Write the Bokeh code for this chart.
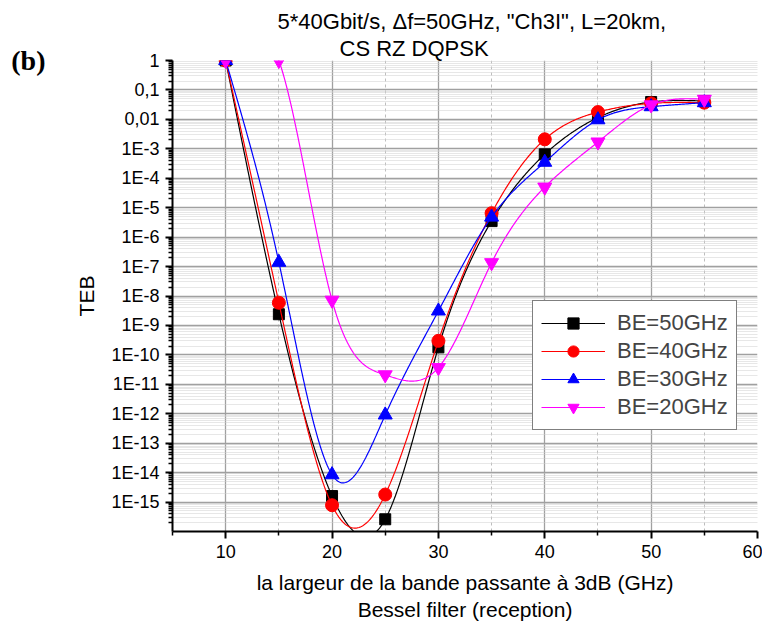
import numpy as np
from bokeh.plotting import figure
from bokeh.models import FixedTicker, Legend, LegendItem, LogAxis, Range1d, Title
from bokeh.embed import file_html
from bokeh.resources import INLINE

# ---- data ----
bandwidth = [10, 15, 20, 25, 30, 35, 40, 45, 50, 55]
teb_be50 = [1, 2.4e-9, 1.6e-15, 2.6e-16, 1.8e-10, 3.5e-6, 6.5e-4, 0.0115, 0.039, 0.042]
teb_be40 = [1, 5.9e-9, 7.8e-16, 1.8e-15, 3.0e-10, 6.5e-6, 2.1e-3, 0.0177, 0.035, 0.037]
teb_be30 = [1, 1.4e-7, 8.5e-15, 9.1e-13, 3.1e-9, 4.8e-6, 3.5e-4, 0.0097, 0.027, 0.037]
teb_be20 = [1, 1, 7.2e-9, 2.1e-11, 3.7e-11, 1.35e-7, 5.0e-5, 1.7e-3, 0.031, 0.048]

series_labels = ["BE=50GHz", "BE=40GHz", "BE=30GHz", "BE=20GHz"]
series_values = [teb_be50, teb_be40, teb_be30, teb_be20]
series_colors = ["#000000", "#ff0000", "#0000ff", "#ff00ff"]
series_markers = ["square", "circle", "triangle", "inverted_triangle"]
series_sizes = [11, 13, 14, 14]

x_ticks = [10, 20, 30, 40, 50, 60]
x_minor = [5, 15, 25, 35, 45, 55]
y_ticks = [10.0 ** e for e in range(-15, 1)]
y_labels = ["1E-%d" % (-e) for e in range(-15, -2)] + ["0,01", "0,1", "1"]
y_minor = [k * 10.0 ** e for e in range(-16, 0) for k in range(2, 10)]

title1 = '5*40Gbit/s, \u0394f=50GHz, "Ch3I", L=20km,'
title2 = "CS RZ DQPSK"
panel_tag = "(b)"
xlabel = "la largeur de la bande passante \u00e0 3dB (GHz)\nBessel filter (reception)"
ylabel = "TEB"


def natural_spline(x, y, xs):
    x = np.asarray(x, float)
    y = np.asarray(y, float)
    n = len(x)
    h = np.diff(x)
    A = np.zeros((n, n))
    b = np.zeros(n)
    A[0, 0] = 1
    A[-1, -1] = 1
    for i in range(1, n - 1):
        A[i, i - 1] = h[i - 1]
        A[i, i] = 2 * (h[i - 1] + h[i])
        A[i, i + 1] = h[i]
        b[i] = 6 * ((y[i + 1] - y[i]) / h[i] - (y[i] - y[i - 1]) / h[i - 1])
    M = np.linalg.solve(A, b)
    idx = np.clip(np.searchsorted(x, xs) - 1, 0, n - 2)
    x0, x1 = x[idx], x[idx + 1]
    hh = x1 - x0
    t0 = x1 - xs
    t1 = xs - x0
    return (M[idx] * t0 ** 3 / (6 * hh) + M[idx + 1] * t1 ** 3 / (6 * hh)
            + (y[idx] / hh - M[idx] * hh / 6) * t0
            + (y[idx + 1] / hh - M[idx + 1] * hh / 6) * t1)


FONT = "Liberation Sans"

p = figure(width=762, height=625, x_range=Range1d(5, 60), y_range=Range1d(1e-16, 1),
           y_axis_type="log", output_backend="svg", toolbar_location=None,
           min_border_left=172, min_border_right=5, min_border_top=60, min_border_bottom=94)
p.outline_line_color = None
p.background_fill_color = "white"

items = []
xs = np.linspace(min(bandwidth), max(bandwidth), 500)
for lab, vals, col, mk, sz in zip(series_labels, series_values, series_colors, series_markers, series_sizes):
    ys = 10 ** natural_spline(bandwidth, np.log10(vals), xs)
    r_line = p.line(xs, ys, line_color=col, line_width=1.2)
    r_pts = p.scatter(bandwidth, vals, marker=mk, size=sz, fill_color=col, line_color=col)
    items.append(LegendItem(label=lab, renderers=[r_line, r_pts]))

legend = Legend(items=items, location=(360, 101))
legend.border_line_color = "black"
legend.border_line_width = 1
legend.background_fill_color = "white"
legend.background_fill_alpha = 1
legend.label_text_font = FONT
legend.label_text_font_size = "22px"
legend.glyph_width = 64
legend.glyph_height = 28
legend.label_height = 28
legend.spacing = 0
legend.padding = 8
legend.margin = 0
legend.label_standoff = 12
p.add_layout(legend)

# axes
p.xaxis.ticker = FixedTicker(ticks=x_ticks, minor_ticks=x_minor)
p.yaxis.ticker = FixedTicker(ticks=y_ticks, minor_ticks=y_minor)
p.yaxis.major_label_overrides = {t: l for t, l in zip(y_ticks, y_labels)}
for ax in (p.xaxis, p.yaxis):
    ax.axis_line_width = 2
    ax.axis_line_color = "black"
    ax.major_tick_line_width = 2
    ax.major_tick_in = 0
    ax.major_tick_out = 7
    ax.minor_tick_in = 0
    ax.minor_tick_out = 4
    ax.minor_tick_line_width = 1.5
    ax.major_label_text_font = FONT
    ax.major_label_text_font_size = "18px"
    ax.major_label_text_color = "black"
    ax.axis_label_text_font = FONT
    ax.axis_label_text_font_size = "21px"
    ax.axis_label_text_font_style = "normal"
    ax.axis_label_text_color = "black"
p.xaxis.axis_label = xlabel
p.yaxis.axis_label = ylabel
p.xaxis.axis_label_standoff = 10
p.yaxis.axis_label_standoff = 10
p.xaxis.major_label_standoff = 6
p.yaxis.major_label_standoff = 6

# panel tag "(b)" drawn as the only label of a bare outer left axis, level with y = 1
tag_axis = LogAxis(ticker=FixedTicker(ticks=[y_ticks[-1]]),
                   major_label_overrides={y_ticks[-1]: panel_tag},
                   axis_line_color=None, major_tick_line_color=None, minor_tick_line_color=None,
                   major_label_text_font="Liberation Serif", major_label_text_font_size="28px",
                   major_label_text_font_style="bold", major_label_text_color="black",
                   major_label_standoff=21)
p.add_layout(tag_axis, "left")

# grid
p.xgrid.grid_line_color = "#a0a0a0"
p.xgrid.grid_line_width = 1.3
p.ygrid.grid_line_color = "#a0a0a0"
p.ygrid.grid_line_width = 1.3
p.xgrid.minor_grid_line_color = "#bdbdbd"
p.xgrid.minor_grid_line_dash = "3 3"
p.ygrid.minor_grid_line_color = "#cfcfcf"
p.ygrid.minor_grid_line_dash = "1 1"

# titles (second line added first: it sits nearest the frame)
p.add_layout(Title(text=title2, align="left", offset=167, standoff=0,
                   text_font=FONT, text_font_size="22px", text_font_style="normal",
                   text_color="black"), "above")
p.add_layout(Title(text=title1, align="left", offset=105, standoff=0,
                   text_font=FONT, text_font_size="22px", text_font_style="normal",
                   text_color="black"), "above")

open("out.html", "w").write(file_html(p, INLINE))
